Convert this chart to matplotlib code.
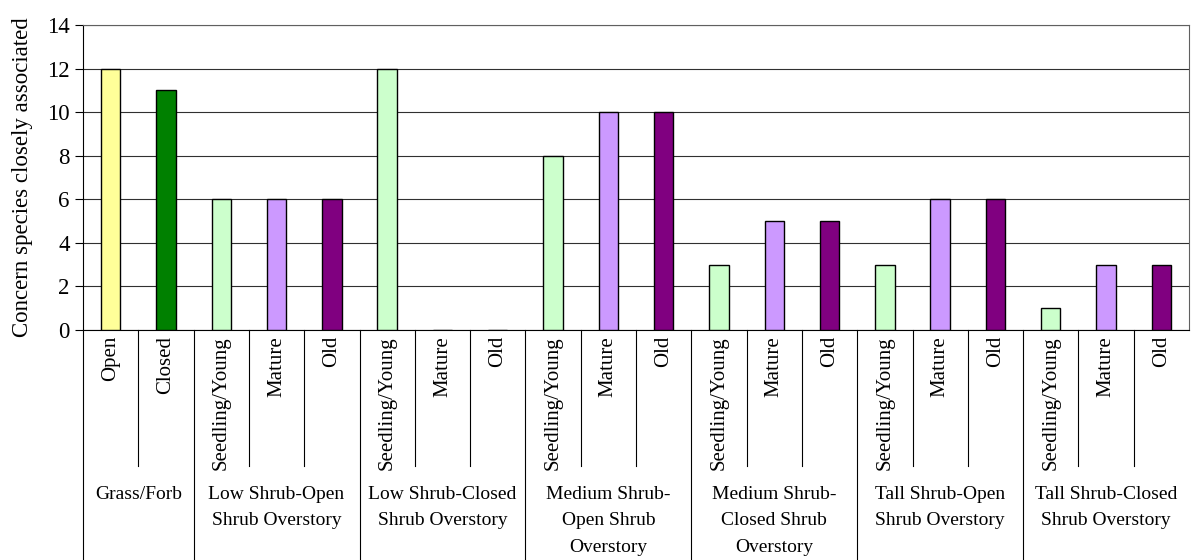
import matplotlib
matplotlib.use("Agg")
import matplotlib.pyplot as plt
import matplotlib.transforms as mtransforms

plt.rcParams["font.family"] = ["Liberation Serif", "DejaVu Serif"]

# categories within each group and the group names
groups = ["Grass/Forb", "Low Shrub-Open\nShrub Overstory", "Low Shrub-Closed\nShrub Overstory",
          "Medium Shrub-\nOpen Shrub\nOverstory", "Medium Shrub-\nClosed Shrub\nOverstory",
          "Tall Shrub-Open\nShrub Overstory", "Tall Shrub-Closed\nShrub Overstory"]
group_sizes = [2, 3, 3, 3, 3, 3, 3]
stages = ["Open", "Closed",
          "Seedling/Young", "Mature", "Old",
          "Seedling/Young", "Mature", "Old",
          "Seedling/Young", "Mature", "Old",
          "Seedling/Young", "Mature", "Old",
          "Seedling/Young", "Mature", "Old",
          "Seedling/Young", "Mature", "Old"]
counts = [12, 11,
          6, 6, 6,
          12, 0, 0,
          8, 10, 10,
          3, 5, 5,
          3, 6, 6,
          1, 3, 3]
stage_colors = {"Open": "#FFFF99", "Closed": "#008000", "Seedling/Young": "#CCFFCC",
                "Mature": "#CC99FF", "Old": "#800080"}

fig = plt.figure(figsize=(11.91, 5.6), dpi=100)
ax = fig.add_axes([83 / 1191, 1 - 330 / 560, 1106 / 1191, 305 / 560])

x = list(range(len(counts)))
ax.bar(x, counts, width=0.35, color=[stage_colors[s] for s in stages],
       edgecolor="black", linewidth=1, zorder=3)

ax.set_xlim(-0.5, len(counts) - 0.5)
ax.set_ylim(0, 14)
ax.set_yticks(range(0, 15, 2))
ax.tick_params(axis="y", labelsize=16.5, direction="out", length=6, width=0.8)
ax.set_ylabel("Concern species closely associated", fontsize=16.5, labelpad=10)
ax.grid(axis="y", color="#303030", linewidth=0.8, zorder=0)
ax.set_xticks([])
for side in ["top", "right"]:
    ax.spines[side].set_color("#606060")
ax.spines["left"].set_linewidth(0.8)
ax.spines["bottom"].set_linewidth(0.8)

trans = mtransforms.blended_transform_factory(ax.transData, ax.transAxes)

# rotated stage labels
for i, s in enumerate(stages):
    ax.text(i, -0.02, s, rotation=90, ha="center", va="top", fontsize=15,
            transform=trans)

# separators between categories and groups
start = 0
for g, n in zip(groups, group_sizes):
    left = start - 0.5
    ax.plot([left, left], [0, -0.754], transform=trans, color="black",
            linewidth=0.8, clip_on=False)
    for k in range(1, n):
        b = start + k - 0.5
        ax.plot([b, b], [0, -0.446], transform=trans, color="black",
                linewidth=0.8, clip_on=False)
    center = start + (n - 1) / 2
    ax.text(center, -0.51, g, ha="center", va="top", fontsize=14,
            linespacing=1.75, transform=trans)
    start += n

fig.savefig("out.png", dpi=100)
